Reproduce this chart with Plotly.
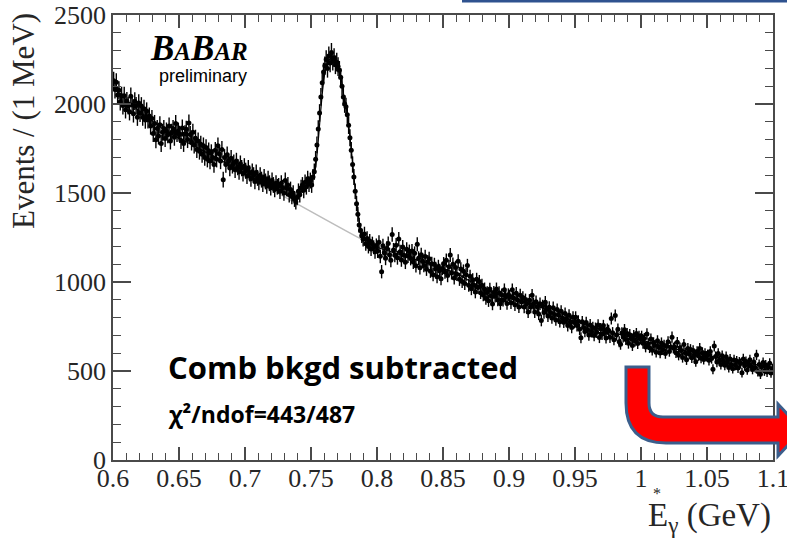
import numpy as np
import plotly.graph_objects as go

# ---------------- data ----------------
# events per 1 MeV bin, bins from 0.600 to 1.100 GeV (bin centres 0.6005 ... 1.0995)
events = [
    2130, 2081, 2122, 2051, 2077, 2013, 2047, 1991, 2047, 1968, 2017, 1990, 1957, 2043, 1994, 1945, 2016, 1990, 1926, 2005, 1948, 1989, 1926, 1974, 1910,
    1960, 1911, 1932, 1876, 1918, 1834, 1890, 1799, 1862, 1820, 1883, 1778, 1841, 1862, 1806, 1848, 1827, 1876, 1792, 1841, 1862, 1813, 1890, 1834, 1848,
    1830, 1795, 1865, 1778, 1833, 1858, 1800, 1893, 1829, 1786, 1841, 1769, 1808, 1744, 1792, 1734, 1774, 1717, 1765, 1700, 1755, 1690, 1737, 1680, 1727,
    1700, 1660, 1740, 1690, 1765, 1720, 1680, 1745, 1575, 1700, 1660, 1715, 1680, 1640, 1695, 1655, 1670, 1630, 1680, 1645, 1620, 1665, 1640, 1610, 1650,
    1625, 1595, 1640, 1610, 1580, 1620, 1600, 1565, 1615, 1585, 1560, 1600, 1575, 1550, 1590, 1565, 1540, 1580, 1555, 1530, 1570, 1545, 1520, 1555, 1535,
    1540, 1510, 1555, 1530, 1500, 1570, 1525, 1545, 1490, 1520, 1480, 1500, 1465, 1450, 1475, 1510, 1490, 1530, 1545, 1515, 1560, 1535, 1580, 1550, 1570,
    1545, 1590, 1620, 1690, 1770, 1860, 1950, 2040, 2120, 2180, 2215, 2250, 2200, 2270, 2230, 2290, 2240, 2260, 2220, 2235, 2210, 2190, 2150, 2100, 2040,
    2000, 1985, 1940, 1880, 1810, 1740, 1660, 1590, 1510, 1440, 1380, 1320, 1290, 1260, 1240, 1270, 1215, 1245, 1200, 1230, 1185, 1215, 1195, 1170, 1205,
    1174, 1223, 1144, 1058, 1203, 1164, 1133, 1190, 1216, 1153, 1122, 1267, 1180, 1150, 1207, 1136, 1241, 1170, 1124, 1197, 1150, 1111, 1184, 1146, 1171,
    1132, 1174, 1112, 1161, 1091, 1212, 1134, 1080, 1153, 1115, 1093, 1143, 1072, 1114, 1131, 1061, 1103, 1041, 1098, 1076, 1030, 1087, 1065, 1018, 1076,
    1102, 1056, 1122, 1036, 1086, 1152, 1051, 1100, 1023, 1081, 1043, 1117, 1015, 1073, 1003, 1061, 992, 1041, 1092, 982, 1032, 962, 1012, 982, 944,
    1015, 969, 1003, 940, 982, 927, 961, 907, 941, 895, 960, 922, 876, 942, 920, 961, 899, 940, 878, 928, 898, 956, 917, 879, 929,
    921, 883, 956, 910, 872, 937, 899, 860, 926, 887, 913, 859, 900, 878, 832, 897, 859, 925, 878, 832, 889, 859, 820, 878, 784,
    866, 828, 886, 847, 809, 858, 828, 798, 856, 818, 787, 845, 815, 777, 835, 796, 774, 823, 793, 755, 813, 775, 744, 802, 772,
    802, 755, 780, 734, 687, 776, 745, 722, 772, 733, 702, 759, 720, 745, 699, 740, 717, 758, 688, 737, 706, 755, 716, 686, 735,
    728, 689, 795, 715, 676, 812, 702, 735, 664, 650, 714, 691, 732, 677, 710, 656, 704, 681, 643, 699, 668, 710, 654, 695, 681,
    695, 656, 682, 635, 708, 653, 631, 680, 617, 659, 644, 605, 670, 632, 601, 658, 620, 645, 598, 639, 664, 610, 635, 690, 629,
    635, 603, 661, 589, 630, 615, 576, 649, 601, 563, 627, 596, 621, 574, 615, 591, 552, 609, 586, 627, 572, 604, 565, 598, 583,
    591, 560, 609, 570, 510, 640, 581, 550, 599, 560, 537, 586, 555, 532, 580, 550, 519, 567, 537, 513, 562, 532, 556, 517, 550,
    542, 490, 568, 529, 553, 506, 539, 563, 525, 509, 550, 519, 590, 497, 537, 482, 523, 548, 500, 534, 494, 519, 544, 489, 513,
]
bin_start = 0.600
bin_width = 0.001

# total fit curve
fit_e = [0.600, 0.620, 0.640, 0.660, 0.680, 0.700, 0.720, 0.730, 0.7364, 0.740, 0.745, 0.750,
         0.753, 0.755, 0.757, 0.759, 0.761, 0.763, 0.765, 0.767, 0.769, 0.771, 0.773, 0.775,
         0.777, 0.779, 0.781, 0.783, 0.785, 0.787, 0.790, 0.795, 0.800, 0.820, 0.840, 0.860,
         0.880, 0.900, 0.920, 0.940, 0.960, 0.980, 1.000, 1.020, 1.040, 1.060, 1.080, 1.100]
fit_y = [2090, 1960, 1850, 1770, 1690, 1610, 1535, 1505, 1465, 1490, 1525, 1555,
         1620, 1750, 1930, 2090, 2195, 2240, 2255, 2258, 2240, 2200, 2135, 2040,
         1965, 1850, 1710, 1555, 1425, 1320, 1250, 1215, 1195, 1148, 1100, 1048,
         965, 910, 870, 805, 755, 712, 675, 632, 605, 572, 545, 520]

# background component (grey line)
bkg_e = [0.600, 0.620, 0.640, 0.660, 0.680, 0.700, 0.720, 0.7364, 0.7864, 0.800, 0.820, 0.840,
         0.860, 0.880, 0.900, 0.920, 0.940, 0.960, 0.980, 1.000, 1.020, 1.040, 1.060, 1.080, 1.100]
bkg_y = [2090, 1960, 1850, 1770, 1690, 1605, 1520, 1452, 1248, 1200, 1148, 1100,
         1048, 965, 910, 870, 805, 755, 712, 675, 632, 605, 572, 545, 520]

x_ticks = [0.6, 0.65, 0.7, 0.75, 0.8, 0.85, 0.9, 0.95, 1.0, 1.05, 1.1]
x_ticklabels = ["0.6", "0.65", "0.7", "0.75", "0.8", "0.85", "0.9", "0.95", "1", "1.05", "1.1"]
y_ticks = [0, 500, 1000, 1500, 2000, 2500]
y_ticklabels = ["0", "500", "1000", "1500", "2000", "2500"]

# ---------------- derived ----------------
counts = np.array(events, dtype=float)
energy = bin_start + bin_width * (np.arange(len(counts)) + 0.5)
errors = np.sqrt(counts) + 5.0   # statistical error bars

W, H = 787, 540
L, R, T, B = 113, 14, 15, 80
PW, PH = W - L - R, H - T - B


def pxx(x):
    return (x - L) / PW


def pxy(y):
    return (H - B - y) / PH


AX = "#4a4a4a"
TXT = "#262626"
SERIF = "Liberation Serif"

fig = go.Figure()
fig.add_trace(go.Scatter(x=bkg_e, y=bkg_y, mode="lines",
                         line=dict(color="#bdbdbd", width=1.5, shape="spline", smoothing=0.6),
                         hoverinfo="skip", showlegend=False))
fig.add_trace(go.Scatter(x=fit_e, y=fit_y, mode="lines",
                         line=dict(color="black", width=1.2, shape="spline", smoothing=0.6),
                         hoverinfo="skip", showlegend=False))
fig.add_trace(go.Scatter(x=energy, y=counts, mode="markers",
                         marker=dict(color="black", size=5),
                         error_y=dict(type="data", array=errors, color="black", thickness=1.4, width=0),
                         showlegend=False))

fig.update_layout(
    template="none",
    width=W, height=H,
    margin=dict(l=L, r=R, t=T, b=B, autoexpand=False),
    paper_bgcolor="white", plot_bgcolor="white",
    xaxis=dict(range=[0.6, 1.1], tickvals=x_ticks, ticktext=x_ticklabels,
               ticks="inside", ticklen=13, tickwidth=1.5, tickcolor=AX,
               showline=True, linecolor=AX, linewidth=1.5, mirror="ticks",
               showgrid=False, zeroline=False, automargin=False,
               ticklabeloverflow="allow", ticklabelstandoff=-6,
               minor=dict(tick0=0.6, dtick=0.01, ticks="inside", ticklen=7, tickwidth=1.2,
                          tickcolor=AX, showgrid=False),
               tickfont=dict(family=SERIF, size=26, color=TXT)),
    yaxis=dict(range=[0, 2500], tickvals=y_ticks, ticktext=y_ticklabels,
               ticks="inside", ticklen=18, tickwidth=1.5, tickcolor=AX,
               showline=True, linecolor=AX, linewidth=1.5, mirror="ticks",
               showgrid=False, zeroline=False, automargin=False,
               ticklabeloverflow="allow",
               minor=dict(tick0=0, dtick=100, ticks="inside", ticklen=8, tickwidth=1.2,
                          tickcolor=AX, showgrid=False),
               tickfont=dict(family=SERIF, size=26, color=TXT)),
)

ann = []
# y title
ann.append(dict(x=pxx(23), y=pxy(121), xref="paper", yref="paper", text="Events / (1 MeV)",
                textangle=-90, showarrow=False, xanchor="center", yanchor="middle",
                font=dict(family=SERIF, size=31, color=TXT)))
# x title
ann.append(dict(x=pxx(773), y=pxy(517), xref="paper", yref="paper", text="E<sub>γ</sub> (GeV)",
                showarrow=False, xanchor="right", yanchor="middle",
                font=dict(family=SERIF, size=33, color=TXT)))
ann.append(dict(x=pxx(657), y=pxy(493), xref="paper", yref="paper", text="*",
                showarrow=False, xanchor="center", yanchor="middle",
                font=dict(family=SERIF, size=16, color=TXT)))
# BaBar logo
ann.append(dict(x=pxx(199), y=pxy(49), xref="paper", yref="paper",
                text="<b><i>B<span style='font-size:25px'>A</span>B<span style='font-size:25px'>AR</span></i></b>",
                showarrow=False, xanchor="center", yanchor="middle",
                font=dict(family=SERIF, size=35, color="black")))
ann.append(dict(x=pxx(203), y=pxy(76), xref="paper", yref="paper", text="preliminary",
                showarrow=False, xanchor="center", yanchor="middle",
                font=dict(family="Liberation Sans", size=18, color="black")))
# overlay texts
ann.append(dict(x=pxx(166), y=pxy(367), xref="paper", yref="paper", text="<b>Comb bkgd subtracted</b>",
                showarrow=False, xanchor="left", yanchor="middle",
                font=dict(family="Open Sans", size=31, color="black")))
ann.append(dict(x=pxx(166), y=pxy(414), xref="paper", yref="paper", text="<b>χ²/ndof=443/487</b>",
                showarrow=False, xanchor="left", yanchor="middle",
                font=dict(family="Open Sans", size=23, color="black")))
fig.update_layout(annotations=ann)


def P(x, y):
    return f"{pxx(x):.5f},{pxy(y):.5f}"


arrow_path = ("M " + P(626, 367) + " L " + P(649, 367) + " L " + P(649, 403) +
              " Q " + P(649, 417) + " " + P(663, 417) + " L " + P(778, 417) +
              " L " + P(778, 404) + " L " + P(802, 430) + " L " + P(778, 456) +
              " L " + P(778, 443) + " L " + P(666, 443) +
              " Q " + P(626, 443) + " " + P(626, 403) + " Z")
fig.add_shape(type="path", path=arrow_path, xref="paper", yref="paper",
              fillcolor="#FF0000", line=dict(color="#3B5E8C", width=3), layer="above")
fig.add_shape(type="line", xref="paper", yref="paper",
              x0=pxx(462), x1=pxx(800), y0=pxy(1), y1=pxy(1),
              line=dict(color="#2F528F", width=3), layer="above")

fig.write_html("out.html")
